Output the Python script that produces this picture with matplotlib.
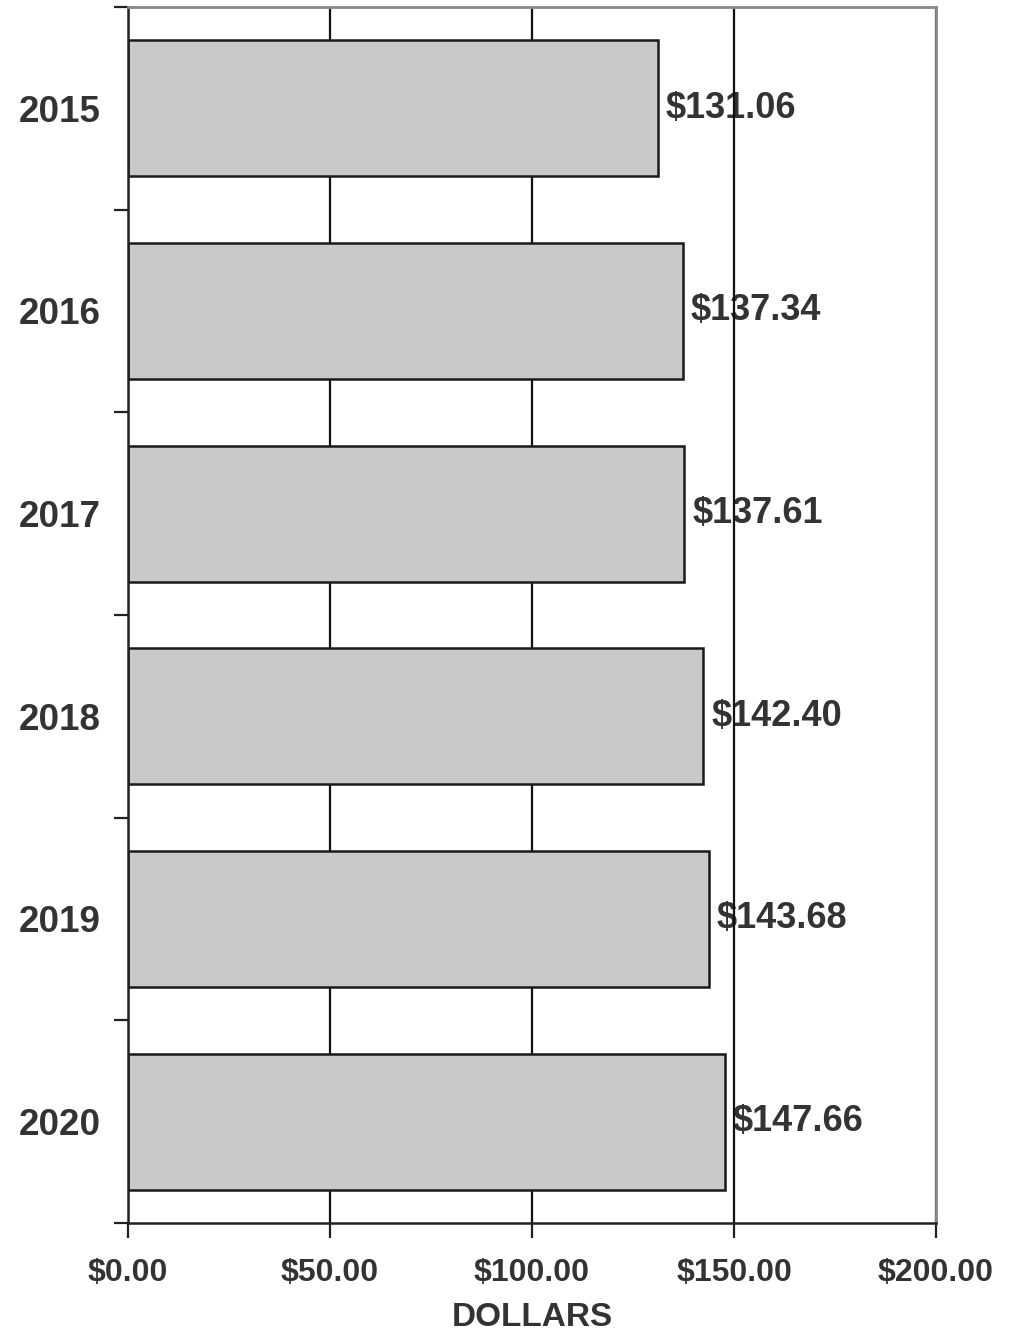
import numpy as np
import matplotlib.pyplot as plt
from matplotlib.ticker import FixedLocator

years = ["2015", "2016", "2017", "2018", "2019", "2020"]
costs = [131.06, 137.34, 137.61, 142.40, 143.68, 147.66]
xticks = [0, 50, 100, 150, 200]

plt.rcParams['font.family'] = ['Liberation Sans', 'DejaVu Sans']
txt = "#333333"

fig = plt.figure(figsize=(10.21, 13.35), dpi=100)
ax = fig.add_axes([0.1254, 0.0839, 0.7914, 0.9109])

pos = np.arange(len(years))
ax.barh(pos, costs, height=0.67, color="#c9c9c9", edgecolor="#1a1a1a",
        linewidth=1.8, zorder=2)

# value labels sit under the grid lines, like in the scan
for p, v in zip(pos, costs):
    ax.text(v + 2.0, p, "${:.2f}".format(v), va="center", ha="left",
            fontsize=26, fontweight="bold", color=txt, zorder=0.2)

ax.set_xlim(0, 200)
ax.set_ylim(len(years) - 0.5, -0.5)

ax.set_xticks(xticks)
ax.set_xticklabels(["${:.2f}".format(x) for x in xticks], fontsize=23,
                   fontweight="bold", color=txt)
ax.set_yticks(pos)
ax.set_yticklabels(years, fontsize=26.5, fontweight="bold", color=txt)
ax.yaxis.set_minor_locator(FixedLocator(np.arange(-0.5, len(years), 1.0)))
ax.tick_params(axis="y", which="major", length=0, pad=20)
ax.tick_params(axis="y", which="minor", length=10, width=1.6, color="#222222")
ax.tick_params(axis="x", length=11, width=1.6, color="#222222", pad=14)

ax.set_axisbelow(True)
ax.xaxis.grid(True, color="#111111", linewidth=1.6)

ax.spines["left"].set_linewidth(1.8)
ax.spines["left"].set_color("#222222")
ax.spines["bottom"].set_linewidth(1.8)
ax.spines["bottom"].set_color("#222222")
ax.spines["top"].set_color("#888888")
ax.spines["top"].set_linewidth(2)
ax.spines["right"].set_color("#888888")
ax.spines["right"].set_linewidth(2)

ax.set_xlabel("DOLLARS", fontsize=24, fontweight="bold", color=txt, labelpad=10)

fig.savefig("out.png", dpi=100)
